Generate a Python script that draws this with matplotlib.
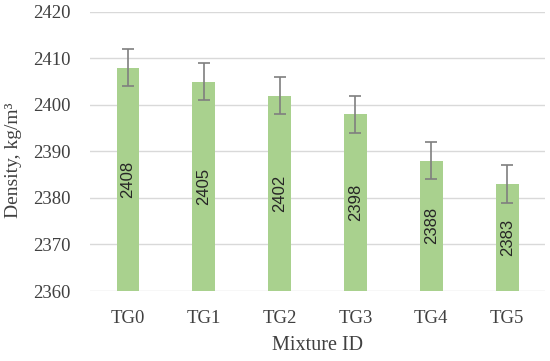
import matplotlib.pyplot as plt

# mixture densities with error bars
mixes = ["TG0", "TG1", "TG2", "TG3", "TG4", "TG5"]
density = [2408, 2405, 2402, 2398, 2388, 2383]
err = [4, 4, 4, 4, 4, 4]

serif = ["Liberation Serif", "DejaVu Serif"]
fig = plt.figure(figsize=(5.5, 3.61), dpi=100)
ax = fig.add_axes([0.1636, 0.1939, 0.8274, 0.7729])

x = range(len(mixes))
ax.bar(x, [d - 2360 for d in density], bottom=2360, width=0.3, color="#a9d18e", zorder=2)
ax.errorbar(x, density, yerr=err, fmt="none", ecolor="#7f7f7f", elinewidth=1.2,
            capsize=4, capthick=1.2, zorder=3)

for i, d in enumerate(density):
    ax.text(i, (d + 2360) / 2, str(d), rotation=90, ha="center", va="center",
            fontsize=12, color="#262626", family=["Liberation Sans", "DejaVu Sans"], zorder=4)

ax.set_ylim(2360, 2420)
ax.set_xlim(-0.5, 5.5)
ax.set_yticks(range(2360, 2421, 10))
ax.set_xticks(list(x))
ax.set_xticklabels(mixes)
ax.grid(axis="y", color="#d9d9d9", linewidth=1, zorder=0)
ax.set_axisbelow(True)
for s in ax.spines.values():
    s.set_visible(False)
ax.tick_params(length=0, labelsize=13.5, labelcolor="#404040")
ax.tick_params(axis="y", pad=14)
ax.tick_params(axis="x", pad=14)
for lab in ax.get_xticklabels() + ax.get_yticklabels():
    lab.set_family(serif)

ax.set_xlabel("Mixture ID", fontsize=14.5, color="#404040", family=serif, labelpad=6)
ax.set_ylabel("Density, kg/m\u00b3", fontsize=14, color="#404040", family=serif)
ax.yaxis.label.set_verticalalignment("center")
ax.yaxis.set_label_coords(-0.168, 0.47)

fig.savefig("out.png", dpi=100)
